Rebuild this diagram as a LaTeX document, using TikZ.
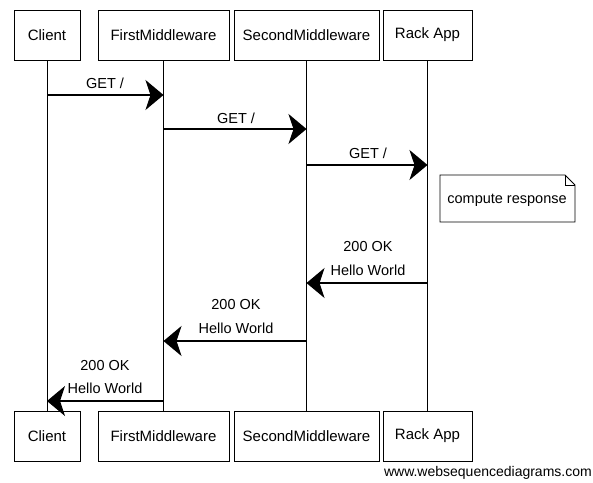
\documentclass[tikz,border=0pt]{standalone}
\usepackage{fontspec}
\setmainfont{Liberation Sans}
\usetikzlibrary{arrows.meta}
\begin{document}
\begin{tikzpicture}[x=1pt,y=-1pt,
  actor/.style={draw, line width=0.9pt, minimum height=50pt, inner sep=0pt, font=\fontsize{15}{17}\selectfont},
  life/.style={line width=0.7pt},
  msg/.style={line width=1.1pt, -{Stealth[length=18pt,width=30pt,inset=5pt]}},
  lbl/.style={font=\fontsize{14.5}{16}\selectfont, inner sep=0pt},
  notebox/.style={draw, line width=0.9pt, fill=white}]
\useasboundingbox (0,0) rectangle (593,482);
% top actors
\node[actor, minimum width=66pt]  (ct) at (47,35)    {Client};
\node[actor, minimum width=131pt] (ft) at (163.5,35) {FirstMiddleware};
\node[actor, minimum width=145pt] (st) at (306.5,35) {SecondMiddleware};
\node[actor, minimum width=89pt]  (rt) at (427.5,35) {Rack App};
% bottom actors
\node[actor, minimum width=66pt]  (cb) at (47,436)    {Client};
\node[actor, minimum width=131pt] (fb) at (163.5,436) {FirstMiddleware};
\node[actor, minimum width=145pt] (sb) at (306.5,436) {SecondMiddleware};
\node[actor, minimum width=89pt]  (rb) at (427.5,436) {Rack App};
% lifelines
\draw[life] (ct.south) -- (cb.north);
\draw[life] (ft.south) -- (fb.north);
\draw[life] (st.south) -- (sb.north);
\draw[life] (rt.south) -- (rb.north);
% message coordinates
\coordinate (m1a) at (47,95);    \coordinate (m1b) at (163.5,95);
\coordinate (m2a) at (163.5,129); \coordinate (m2b) at (306.5,129);
\coordinate (m3a) at (306.5,165); \coordinate (m3b) at (427.5,165);
\coordinate (m4a) at (427.5,283); \coordinate (m4b) at (306.5,283);
\coordinate (m5a) at (306.5,341); \coordinate (m5b) at (163.5,341);
\coordinate (m6a) at (163.5,401); \coordinate (m6b) at (47,401);
% messages
\draw[msg] (m1a) -- (m1b);
\node[lbl] (l1) at (105,83) {GET /};
\draw[msg] (m2a) -- (m2b);
\node[lbl] (l2) at (236,118) {GET /};
\draw[msg] (m3a) -- (m3b);
\node[lbl] (l3) at (368,153) {GET /};
% note
\draw[notebox] (440,175) -- (565,175) -- (575,185) -- (575,222) -- (440,222) -- cycle;
\draw[line width=0.7pt] (565,175) -- (565,185) -- (575,185);
\node[lbl] (note) at (507,200) {compute response};
% responses
\draw[msg] (m4a) -- (m4b);
\node[lbl] (l4a) at (368,247) {200 OK};
\node[lbl] (l4b) at (368,270) {Hello World};
\draw[msg] (m5a) -- (m5b);
\node[lbl] (l5a) at (236,305) {200 OK};
\node[lbl] (l5b) at (236,328) {Hello World};
\draw[msg] (m6a) -- (m6b);
\node[lbl] (l6a) at (105,365) {200 OK};
\node[lbl] (l6b) at (105,388) {Hello World};
% watermark
\node[anchor=east, inner sep=0pt, font=\fontsize{14}{16}\selectfont] (wm) at (592,473) {www.websequencediagrams.com};
\end{tikzpicture}
\end{document}
